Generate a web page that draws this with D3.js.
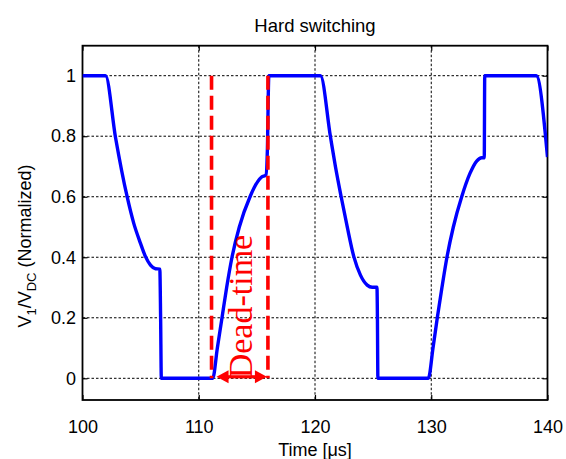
<!DOCTYPE html>
<html>
<head>
<meta charset="utf-8">
<script src="https://cdn.jsdelivr.net/npm/d3@7"></script>
<style>
html,body{margin:0;padding:0;background:#fff;}
svg{display:block;}
text{font-family:Arial,"Liberation Sans",Helvetica,sans-serif;fill:#000;}
</style>
</head>
<body>
<svg id="chart" width="566" height="459"></svg>
<script>
// ---- data ----
const titleText = "Hard switching";
const xLabel = "Time [\u03bcs]";
const xTicks = [100, 110, 120, 130, 140];
const yTicks = [0, 0.2, 0.4, 0.6, 0.8, 1];
const yTickLabels = ["0", "0.2", "0.4", "0.6", "0.8", "1"];
const xDomain = [100, 140];
const yDomain = [-0.0717, 1.0991];

// V1/VDC waveform (time in us, normalized voltage)
const timeUs = [
  100, 101.98, 102.84, 103.84, 104.41, 104.99, 105.42, 105.85, 106.28, 106.65, 106.72, 106.78,
  111.20, 111.60, 112.00, 112.40, 112.86, 113.49, 114.41, 115.07, 115.41, 115.78, 115.90, 116.03,
  120.47, 121.33, 121.76, 122.25, 122.77, 123.34, 123.91, 124.49, 124.92, 125.33, 125.37, 125.41,
  129.75, 130.15, 130.52, 130.92, 131.35, 131.90, 132.62, 133.33, 133.91, 134.34, 134.56, 134.6,
  139.03, 140
];
const vNorm = [
  1, 1, 0.796, 0.600, 0.512, 0.446, 0.402, 0.374, 0.362, 0.361, 0.2, 0,
  0, 0.1, 0.2, 0.3, 0.4, 0.5, 0.6, 0.65, 0.665, 0.672, 0.75, 1,
  1, 0.798, 0.699, 0.600, 0.501, 0.402, 0.341, 0.308, 0.301, 0.301, 0.2, 0,
  0, 0.1, 0.2, 0.3, 0.4, 0.5, 0.6, 0.677, 0.718, 0.729, 0.729, 1,
  1, 0.731
];

// dead-time markers
const deadStart = 111.1;
const deadEnd = 115.95;
const deadLabel = "Dead-time";

// ---- layout ----
const svg = d3.select("#chart");
const L = 82.5, R = 547.5, T = 45.7, B = 400;
const x = d3.scaleLinear().domain(xDomain).range([L, R]);
const y = d3.scaleLinear().domain(yDomain).range([B, T]);

// grid (dotted)
const grid = svg.append("g");
grid.selectAll(".gx").data(xTicks).enter().append("line")
  .attr("x1", d => x(d)).attr("x2", d => x(d)).attr("y1", T).attr("y2", B)
  .attr("stroke", "#000").attr("stroke-width", 1).attr("stroke-dasharray", "2.5,2");
grid.selectAll(".gy").data(yTicks).enter().append("line")
  .attr("x1", L).attr("x2", R).attr("y1", d => y(d)).attr("y2", d => y(d))
  .attr("stroke", "#000").attr("stroke-width", 1).attr("stroke-dasharray", "2.5,2");

// axes with inward ticks
const tickLen = 5;
const axB = svg.append("g").attr("transform", `translate(0,${B})`)
  .call(d3.axisBottom(x).tickValues(xTicks).tickSize(-tickLen).tickPadding(tickLen).tickFormat(d3.format("d")));
const axT = svg.append("g").attr("transform", `translate(0,${T})`)
  .call(d3.axisTop(x).tickValues(xTicks).tickSize(-tickLen).tickFormat(""));
const axL = svg.append("g").attr("transform", `translate(${L},0)`)
  .call(d3.axisLeft(y).tickValues(yTicks).tickSize(-tickLen).tickPadding(6.5).tickFormat((d, i) => yTickLabels[i]));
const axR = svg.append("g").attr("transform", `translate(${R},0)`)
  .call(d3.axisRight(y).tickValues(yTicks).tickSize(-tickLen).tickFormat(""));
[axB, axT, axL, axR].forEach(a => {
  a.select(".domain").remove();
  a.selectAll(".tick line").attr("stroke", "#000").attr("stroke-width", 1.2);
  a.selectAll("text").attr("font-size", 18).attr("font-family", "Arial, 'Liberation Sans', sans-serif").attr("fill", "#000");
});
axB.selectAll("text").attr("y", 33).attr("dy", "0");
// box
svg.append("rect").attr("x", L).attr("y", T).attr("width", R - L).attr("height", B - T)
  .attr("fill", "none").attr("stroke", "#000").attr("stroke-width", 1.8);

// waveform
const pts = timeUs.map((t, i) => [t, vNorm[i]]);
svg.append("defs").append("clipPath").attr("id", "clip")
  .append("rect").attr("x", L).attr("y", T).attr("width", R - L).attr("height", B - T);
svg.append("path").datum(pts)
  .attr("clip-path", "url(#clip)")
  .attr("d", d3.line().x(d => x(d[0])).y(d => y(d[1])).curve(d3.curveMonotoneX))
  .attr("fill", "none").attr("stroke", "#0000ff").attr("stroke-width", 3.4)
  .attr("stroke-linejoin", "round");

// dead-time dashed lines
const red = "#ff0000";
svg.selectAll(".dl").data([deadStart, deadEnd]).enter().append("line")
  .attr("x1", d => x(d)).attr("x2", d => x(d)).attr("y1", y(1)).attr("y2", y(0))
  .attr("stroke", red).attr("stroke-width", 3.6).attr("stroke-dasharray", "14,6");

// double arrow
const ay = y(0) - 1.5;
const ax1 = x(deadStart) + 5, ax2 = x(deadEnd) - 1;
const headL = 12, headH = 6.5;
svg.append("line").attr("x1", ax1 + headL - 1).attr("x2", ax2 - headL + 1).attr("y1", ay).attr("y2", ay)
  .attr("stroke", red).attr("stroke-width", 3.2);
svg.append("path")
  .attr("d", `M${ax1},${ay} L${ax1 + headL},${ay - headH} L${ax1 + headL},${ay + headH} Z`)
  .attr("fill", red);
svg.append("path")
  .attr("d", `M${ax2},${ay} L${ax2 - headL},${ay - headH} L${ax2 - headL},${ay + headH} Z`)
  .attr("fill", red);

// dead-time label
svg.append("text")
  .attr("transform", `translate(${(x(deadStart) + x(deadEnd)) / 2 + 12.5},${y(0)}) rotate(-90)`)
  .attr("text-anchor", "start")
  .style("font-family", "'Liberation Serif','Times New Roman',Times,serif")
  .style("font-size", "34px")
  .style("fill", red)
  .text(deadLabel);

// title
svg.append("text").attr("x", (L + R) / 2).attr("y", 31.5).attr("text-anchor", "middle")
  .attr("font-size", 18.5).text(titleText);

// x label
svg.append("text").attr("x", (L + R) / 2).attr("y", 456).attr("text-anchor", "middle")
  .attr("font-size", 18).text(xLabel);

// y label with subscripts
const yl = svg.append("text")
  .attr("transform", `translate(31,246) rotate(-90)`)
  .attr("text-anchor", "middle")
  .attr("font-size", 18);
yl.append("tspan").text("V");
yl.append("tspan").attr("font-size", 13).attr("dy", 5).text("1");
yl.append("tspan").attr("dy", -5).text("/V");
yl.append("tspan").attr("font-size", 13).attr("dy", 5).text("DC");
yl.append("tspan").attr("dy", -5).text(" (Normalized)");
</script>
</body>
</html>
